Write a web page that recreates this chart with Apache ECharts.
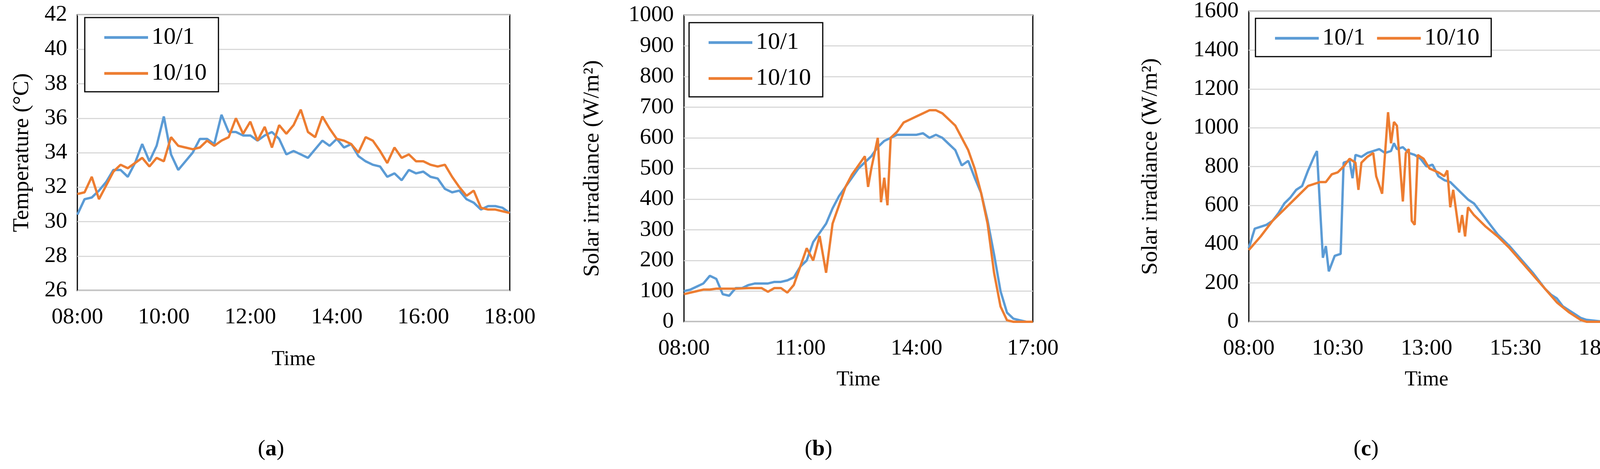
<!DOCTYPE html>
<html>
<head>
<meta charset="utf-8">
<script src="https://cdn.jsdelivr.net/npm/echarts@6/dist/echarts.min.js"></script>
<style>html,body{margin:0;background:#fff}#main{width:4218px;height:1201px}</style>
</head>
<body>
<div id="main"></div>
<script>
// minutes of day helper
function t(s) { var p = s.split(":"); return +p[0] * 60 + +p[1]; }

// (a) temperature, 10-min steps 08:00-18:00
var timesA = ["08:00","08:10","08:20","08:30","08:40","08:50","09:00","09:10","09:20","09:30","09:40","09:50","10:00","10:10","10:20","10:30","10:40","10:50","11:00","11:10","11:20","11:30","11:40","11:50","12:00","12:10","12:20","12:30","12:40","12:50","13:00","13:10","13:20","13:30","13:40","13:50","14:00","14:10","14:20","14:30","14:40","14:50","15:00","15:10","15:20","15:30","15:40","15:50","16:00","16:10","16:20","16:30","16:40","16:50","17:00","17:10","17:20","17:30","17:40","17:50","18:00"];
var tempOct1 = [30.4,31.3,31.4,31.8,32.3,33.0,33.0,32.6,33.4,34.5,33.5,34.4,36.1,33.9,33.0,33.5,34.0,34.8,34.8,34.5,36.2,35.2,35.2,35.0,35.0,34.7,35.0,35.2,34.8,33.9,34.1,33.9,33.7,34.2,34.7,34.4,34.8,34.3,34.5,33.8,33.5,33.3,33.2,32.6,32.8,32.4,33.0,32.8,32.9,32.6,32.5,31.9,31.7,31.8,31.3,31.1,30.7,30.9,30.9,30.8,30.5];
var tempOct10 = [31.6,31.7,32.6,31.3,32.1,32.9,33.3,33.1,33.4,33.7,33.2,33.7,33.5,34.9,34.4,34.3,34.2,34.3,34.7,34.4,34.7,34.9,36.0,35.1,35.8,34.7,35.5,34.3,35.6,35.1,35.6,36.5,35.2,34.9,36.1,35.4,34.8,34.7,34.5,34.0,34.9,34.7,34.1,33.4,34.3,33.7,33.9,33.5,33.5,33.3,33.2,33.3,32.6,32.0,31.5,31.8,30.8,30.7,30.7,30.6,30.5];

// (b) solar irradiance, 08:00-17:00
var timesB1 = ["08:00","08:10","08:20","08:30","08:40","08:50","09:00","09:10","09:20","09:30","09:40","09:50","10:00","10:10","10:20","10:30","10:40","10:50","11:00","11:10","11:20","11:30","11:40","11:50","12:00","12:10","12:20","12:30","12:40","12:50","13:00","13:10","13:20","13:30","13:40","13:50","14:00","14:10","14:20","14:30","14:40","14:50","15:00","15:10","15:20","15:30","15:40","15:50","16:00","16:10","16:20","16:30","16:40","16:50","17:00"];
var irrB1 = [100,105,115,125,150,140,90,85,110,110,120,125,125,125,130,130,135,145,180,200,260,290,320,370,410,440,470,500,520,540,570,590,600,610,610,610,610,615,600,610,600,580,560,510,525,470,420,330,220,100,30,10,5,0,0];
var timesB10 = ["08:00","08:10","08:20","08:30","08:40","08:50","09:00","09:20","09:40","10:00","10:10","10:20","10:30","10:40","10:50","11:00","11:10","11:20","11:30","11:40","11:50","12:00","12:10","12:20","12:30","12:40","12:45","12:50","13:00","13:05","13:10","13:15","13:20","13:30","13:40","13:50","14:00","14:10","14:20","14:30","14:40","14:50","15:00","15:10","15:20","15:30","15:40","15:50","16:00","16:10","16:20","16:30","17:00"];
var irrB10 = [90,95,100,105,105,108,108,108,110,110,98,110,110,95,120,180,240,200,280,160,320,380,440,480,510,540,440,500,600,390,470,380,600,620,650,660,670,680,690,690,680,660,640,600,560,500,420,320,160,50,5,0,0];

// (c) solar irradiance, 08:00-18:00
var timesC1 = ["08:00","08:10","08:20","08:30","08:40","08:50","09:00","09:10","09:20","09:30","09:40","09:50","09:55","10:00","10:05","10:10","10:15","10:25","10:35","10:40","10:50","10:55","11:00","11:10","11:20","11:30","11:40","11:50","12:00","12:05","12:10","12:20","12:30","12:40","12:50","13:00","13:10","13:20","13:30","13:40","13:50","14:00","14:10","14:20","14:30","14:40","14:50","15:00","15:20","15:40","16:00","16:10","16:20","16:30","16:40","16:50","17:00","17:10","17:20","17:30","18:00"];
var irrC1 = [380,480,490,500,520,560,610,640,680,700,780,850,880,600,330,390,260,340,350,820,830,740,860,850,870,880,890,870,880,920,890,900,870,860,840,800,810,750,730,720,690,660,630,610,570,530,490,450,390,320,250,210,170,140,120,80,60,40,20,10,0];
var timesC10 = ["08:00","08:20","08:40","09:00","09:20","09:40","10:00","10:10","10:20","10:30","10:40","10:50","11:00","11:05","11:10","11:20","11:30","11:35","11:45","11:55","12:00","12:05","12:10","12:20","12:25","12:30","12:35","12:40","12:45","12:55","13:05","13:20","13:30","13:35","13:40","13:45","13:55","14:00","14:05","14:10","14:20","14:30","14:40","15:00","15:20","15:40","16:00","16:20","16:40","17:00","17:20","17:30","18:00"];
var irrC10 = [370,440,520,580,640,700,720,720,760,770,800,840,820,680,820,850,870,750,660,1080,920,1030,1010,620,870,890,520,500,860,840,790,770,750,780,590,680,460,550,440,590,550,520,490,440,380,310,240,170,100,50,10,0,0];

var BLUE = "#5B9BD5", ORANGE = "#ED7D31";
var FONT = "Liberation Serif";

function pairs(times, vals) {
    return times.map(function (s, i) { return [t(s), vals[i]]; });
}
function hhmm(v) {
    var h = Math.floor(v / 60), m = v % 60;
    return (h < 10 ? "0" : "") + h + ":" + (m < 10 ? "0" : "") + m;
}

var chart = echarts.init(document.getElementById("main"));

var grids = [
    { left: 198, top: 38, width: 1107, height: 706 },
    { left: 1751, top: 39, width: 893, height: 785 },
    { left: 3197, top: 28, width: 910, height: 796 },
];
var xCfg = [
    { min: 480, max: 1080, interval: 120, gap: 150 },
    { min: 480, max: 1020, interval: 180, gap: 122 },
    { min: 480, max: 1080, interval: 150, gap: 122 },
];
var yCfg = [
    { min: 26, max: 42, interval: 2, name: "Temperature (°C)", gap: 112 },
    { min: 0, max: 1000, interval: 100, name: "Solar irradiance (W/m²)", gap: 205 },
    { min: 0, max: 1600, interval: 200, name: "Solar irradiance (W/m²)", gap: 222 },
];
var legendPos = [
    { left: 217, top: 45, width: 334, height: 168 },
    { left: 1764, top: 58, width: 385, height: 155 },
    { left: 3214, top: 47, width: 413, height: 151 },
];

var option = {
    backgroundColor: "#ffffff",
    textStyle: { fontFamily: FONT },
    grid: grids.map(function (g) {
        return Object.assign({ show: true, borderColor: "#000", borderWidth: 3, backgroundColor: "transparent" }, g);
    }),
    xAxis: xCfg.map(function (c, i) {
        return {
            type: "value", gridIndex: i, min: c.min, max: c.max, interval: c.interval,
            name: "Time", nameLocation: "middle", nameGap: c.gap,
            nameTextStyle: { fontFamily: FONT, fontSize: 54, color: "#000" },
            axisLine: { show: false }, axisTick: { show: false }, splitLine: { show: false },
            axisLabel: { formatter: hhmm, fontFamily: FONT, fontSize: 58, color: "#000", margin: 40, showMaxLabel: true },
        };
    }),
    yAxis: yCfg.map(function (c, i) {
        return {
            type: "value", gridIndex: i, min: c.min, max: c.max, interval: c.interval,
            name: c.name, nameLocation: "middle", nameGap: c.gap,
            nameTextStyle: { fontFamily: FONT, fontSize: 58, color: "#000" },
            axisLine: { show: false }, axisTick: { show: false },
            splitLine: { lineStyle: { color: "#d9d9d9", width: 3 } },
            axisLabel: { formatter: function (v) { return String(v); }, fontFamily: FONT, fontSize: 58, color: "#000", margin: 26 },
        };
    }),
    legend: legendPos.map(function (p, i) {
        return {
            left: p.left, top: p.top, width: p.width, height: p.height,
            orient: "vertical", padding: [20, 30, 16, 50], itemGap: 30,
            borderColor: "#000", borderWidth: 3, backgroundColor: "#fff",
            itemWidth: 112, itemHeight: 7, icon: "rect",
            textStyle: { fontFamily: FONT, fontSize: 62, color: "#000", padding: [0, 0, 0, 4] },
            data: [{ name: "10/1" }, { name: "10/10" }],
            selectedMode: false,
        };
    }),
    series: [],
};

var sets = [
    [timesA, tempOct1, timesA, tempOct10],
    [timesB1, irrB1, timesB10, irrB10],
    [timesC1, irrC1, timesC10, irrC10],
];
sets.forEach(function (s, i) {
    option.series.push({
        name: "10/1", type: "line", xAxisIndex: i, yAxisIndex: i, showSymbol: false,
        data: pairs(s[0], s[1]), lineStyle: { color: BLUE, width: 6 }, itemStyle: { color: BLUE },
    });
    option.series.push({
        name: "10/10", type: "line", xAxisIndex: i, yAxisIndex: i, showSymbol: false,
        data: pairs(s[2], s[3]), lineStyle: { color: ORANGE, width: 6 }, itemStyle: { color: ORANGE },
    });
});

function panelLabel(letter, x) {
    return {
        type: "text", left: x, top: 1122,
        style: {
            text: "{r|(}{b|" + letter + "}{r|)}",
            rich: {
                r: { fontFamily: FONT, fontSize: 58, fill: "#000" },
                b: { fontFamily: FONT, fontSize: 58, fontWeight: "bold", fill: "#000" },
            },
        },
    };
}
option.graphic = [panelLabel("a", 660), panelLabel("b", 2060), panelLabel("c", 3465)];

chart.setOption(option);
</script>
</body>
</html>
